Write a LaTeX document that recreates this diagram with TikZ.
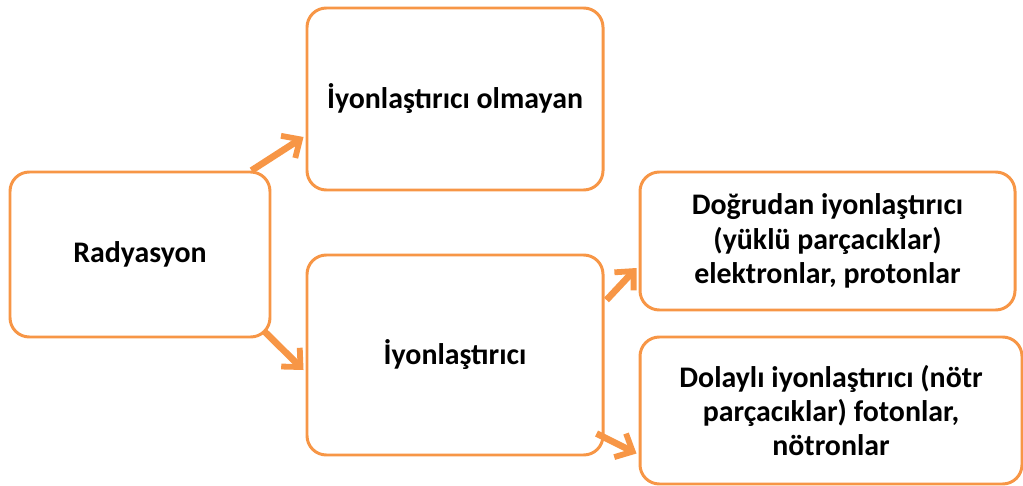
\documentclass[tikz,border=0pt]{standalone}
\usepackage{fontspec}
\setmainfont{Carlito}
\usetikzlibrary{arrows.meta,calc}

\definecolor{boxorange}{HTML}{F79646}

\begin{document}
\begin{tikzpicture}[x=0.02cm, y=-0.02cm,
    box/.style={draw=boxorange, line width=1.7pt, rounded corners=11pt, fill=white,
        align=center, font=\fontsize{17}{19.5}\selectfont\bfseries, inner sep=0pt},
    arr/.style={draw=boxorange, line width=3.8pt,
        -{Straight Barb[length=8pt, width=15pt, line width=3.3pt]}}]
    % fix the page size to the reference
    \useasboundingbox (0,0) rectangle (1023,486);

    % boxes
    \node[box, minimum width=260*0.02cm, minimum height=165*0.02cm] (rad) at (140,254.5) {Radyasyon};
    \node[box, minimum width=296*0.02cm, minimum height=182*0.02cm] (non) at (455,99) {İyonlaştırıcı olmayan};
    \node[box, minimum width=296*0.02cm, minimum height=200*0.02cm] (ion) at (455,355) {İyonlaştırıcı};
    \node[box, minimum width=375*0.02cm, minimum height=138*0.02cm] (dir) at (827.5,241)
        {Doğrudan iyonlaştırıcı\\(yüklü parçacıklar)\\elektronlar, protonlar};
    \node[box, minimum width=382*0.02cm, minimum height=147*0.02cm] (ind) at (831,410.5)
        {Dolaylı iyonlaştırıcı (nötr\\parçacıklar) fotonlar,\\nötronlar};

    % arrows between the boxes
    \draw[arr] ($(rad.north east)+(-20,0)$) -- ($(non.west)+(-2,38)$);
    \draw[arr] ($(rad.south east)+(-7,-7)$) -- ($(ion.west)+(-2,15)$);
    \draw[arr] ($(ion.east)+(2,-55)$) -- ($(dir.west)+(-2,27)$);
    \draw[arr] ($(ion.south east)+(-8,-23)$) -- ($(ind.west)+(-2,43)$);

\end{tikzpicture}
\end{document}
